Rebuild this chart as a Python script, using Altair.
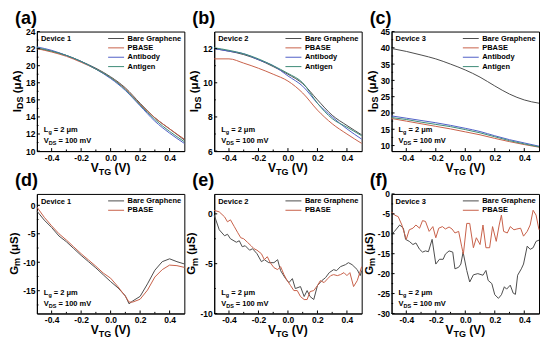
import altair as alt
import pandas as pd

FONT = "Liberation Sans"
W, H = 148, 120

COLORS = {"Bare Graphene": "#4d4d4d", "PBASE": "#c8614a",
          "Antibody": "#5060c8", "Antigen": "#3e8c78"}

# ---------------- data ----------------
X11 = [-0.5, -0.4, -0.3, -0.2, -0.1, 0.0, 0.1, 0.2, 0.3, 0.4, 0.5]

a_bare = [22.0, 21.7, 21.2, 20.5, 19.7, 18.7, 17.4, 15.6, 13.9, 12.6, 11.3]
a_pbase = [22.0, 21.6, 21.1, 20.4, 19.6, 18.6, 17.3, 15.5, 13.9, 12.6, 11.4]
a_antibody = [22.2, 21.8, 21.2, 20.5, 19.6, 18.5, 17.1, 15.3, 13.5, 12.1, 10.9]
a_antigen = [22.1, 21.7, 21.2, 20.5, 19.6, 18.6, 17.2, 15.4, 13.7, 12.3, 11.1]

b_bare = [12.0, 11.85, 11.65, 11.35, 10.95, 10.5, 9.95, 9.0, 8.1, 7.5, 6.95]
b_pbase = [11.4, 11.4, 11.15, 10.85, 10.5, 10.1, 9.4, 8.4, 7.6, 7.0, 6.45]
b_antibody = [12.0, 11.85, 11.7, 11.35, 11.0, 10.4, 9.8, 8.8, 8.0, 7.3, 6.7]
b_antigen = [12.05, 11.9, 11.7, 11.4, 11.0, 10.55, 10.0, 8.8, 7.9, 7.4, 6.9]

c_bare = [39.8, 38.9, 37.8, 36.6, 35.0, 33.2, 31.0, 28.3, 25.8, 24.0, 23.0]
c_pbase = [18.3, 17.5, 16.7, 15.9, 15.1, 14.2, 13.3, 12.2, 11.2, 10.3, 9.5]
c_antibody = [19.1, 18.4, 17.7, 17.0, 16.2, 15.3, 14.3, 13.0, 11.8, 10.8, 9.8]
c_antigen = [18.6, 18.0, 17.2, 16.5, 15.8, 14.9, 13.9, 12.7, 11.5, 10.5, 9.6]

d_x = [-0.5, -0.45, -0.4, -0.35, -0.3, -0.25, -0.2, -0.15, -0.1, -0.05, 0.0,
       0.05, 0.1, 0.125, 0.15, 0.2, 0.25, 0.3, 0.35, 0.4, 0.45, 0.5]
d_bare = [-1.0, -2.6, -3.9, -5.4, -6.4, -7.6, -8.8, -9.9, -11.0, -12.2, -13.4,
          -14.5, -15.9, -17.3, -16.8, -16.0, -13.8, -11.4, -9.9, -9.4, -9.9, -10.3]
d_pbase = [-0.3, -2.1, -3.6, -5.0, -6.1, -7.3, -8.5, -9.6, -10.7, -11.9, -12.8,
           -14.3, -16.0, -17.0, -17.0, -16.5, -14.9, -12.6, -11.3, -10.5, -10.6, -10.9]

e_bare_x = [-0.5, -0.466, -0.43, -0.41, -0.39, -0.35, -0.33, -0.31, -0.29, -0.26,
            -0.24, -0.21, -0.18, -0.16, -0.13, -0.095, -0.07, -0.05, -0.016, 0.007,
            0.03, 0.05, 0.085, 0.11, 0.13, 0.15, 0.175, 0.2, 0.23, 0.255,
            0.28, 0.31, 0.33, 0.356, 0.39, 0.41, 0.435, 0.47, 0.49, 0.5]
e_bare = [-0.13, -1.6, -2.2, -2.05, -2.5, -2.85, -2.7, -3.3, -3.2, -3.65,
          -3.5, -4.0, -4.8, -4.6, -4.9, -4.9, -4.6, -5.7, -6.5, -6.9,
          -6.5, -7.5, -7.3, -8.3, -7.7, -8.3, -8.6, -7.2, -6.7, -6.4,
          -5.9, -5.6, -5.7, -5.3, -5.1, -4.9, -5.1, -5.6, -6.2, -5.7]
e_pbase_x = [-0.5, -0.466, -0.43, -0.41, -0.39, -0.365, -0.34, -0.32, -0.3, -0.275,
             -0.25, -0.23, -0.21, -0.18, -0.16, -0.14, -0.12, -0.095, -0.07, -0.05,
             -0.027, -0.005, 0.018, 0.04, 0.063, 0.085, 0.11, 0.13, 0.15, 0.175,
             0.2, 0.22, 0.245, 0.27, 0.29, 0.31, 0.335, 0.356, 0.38, 0.4,
             0.42, 0.445, 0.47, 0.5]
e_pbase = [0.35, 0.2, -0.3, -0.8, -0.6, -1.25, -1.9, -2.4, -2.5, -2.85,
           -3.2, -3.5, -3.65, -4.0, -4.6, -4.3, -4.9, -5.4, -5.6, -5.3,
           -6.1, -6.7, -7.2, -7.7, -7.7, -8.3, -8.6, -8.6, -7.8, -7.7,
           -7.2, -6.7, -6.9, -6.5, -6.2, -6.1, -6.2, -6.1, -5.9, -6.2,
           -5.9, -7.3, -6.7, -5.3]

f_bare_x = [-0.5, -0.48, -0.445, -0.42, -0.405, -0.38, -0.355, -0.335, -0.31, -0.29,
            -0.27, -0.25, -0.225, -0.2, -0.175, -0.15, -0.135, -0.11, -0.085, -0.07,
            -0.045, -0.03, -0.015, 0.01, 0.03, 0.055, 0.085, 0.12, 0.14, 0.155,
            0.18, 0.2, 0.225, 0.245, 0.265, 0.28, 0.305, 0.325, 0.34, 0.355,
            0.38, 0.395, 0.42, 0.44, 0.46, 0.48, 0.5]
f_bare = [-10.2, -9.4, -7.8, -8.6, -11.4, -11.9, -12.7, -12.3, -13.9, -14.6,
          -14.3, -14.5, -11.4, -17.6, -16.4, -16.4, -15.1, -14.3, -14.6, -18.8,
          -18.4, -17.6, -14.6, -19.2, -22.1, -20.3, -20.0, -20.4, -19.2, -21.7,
          -22.5, -25.3, -26.2, -25.3, -23.3, -23.9, -22.9, -24.9, -25.2, -20.4,
          -18.8, -17.6, -13.1, -13.9, -13.5, -11.9, -11.6]
f_pbase_x = [-0.5, -0.48, -0.455, -0.43, -0.42, -0.40, -0.38, -0.355, -0.335, -0.31,
             -0.29, -0.27, -0.245, -0.22, -0.2, -0.18, -0.155, -0.135, -0.11, -0.09,
             -0.07, -0.045, -0.025, -0.013, 0.01, 0.03, 0.055, 0.075, 0.1, 0.12,
             0.14, 0.165, 0.185, 0.21, 0.23, 0.245, 0.26, 0.285, 0.305, 0.33,
             0.35, 0.375, 0.395, 0.42, 0.44, 0.46, 0.48, 0.5]
f_pbase = [-4.5, -5.3, -5.7, -7.8, -9.0, -11.4, -9.0, -8.6, -7.8, -8.6,
           -6.7, -6.9, -9.4, -8.2, -11.0, -8.6, -8.2, -8.8, -8.3, -8.8,
           -9.8, -9.4, -13.1, -15.1, -7.4, -7.4, -13.5, -11.0, -12.7, -7.8,
           -13.5, -13.5, -8.2, -11.9, -7.8, -5.3, -9.4, -9.8, -8.2, -9.0,
           -8.8, -8.6, -10.6, -9.4, -7.8, -4.1, -5.3, -9.0]

X_MAJOR = [-0.4, -0.2, 0.0, 0.2, 0.4]
X_MINOR = [-0.3, -0.1, 0.1, 0.3]

# ---------------- helpers ----------------
CW = {' ': 278, '(': 333, ')': 333, '=': 584, '.': 278, 'A': 722, 'D': 722, 'G': 778,
      'I': 278, 'L': 611, 'M': 833, 'S': 667, 'T': 611, 'V': 667, 'g': 611, 'm': 889,
      'μ': 611}


def tw(s, size):
    return sum(CW.get(ch, 556) for ch in s) * size / 1000.0


ONE = pd.DataFrame({"k": [1]})
HYPHEN = "replace(datum.label, '\u2212', '-')"


def txt(text, x, y, size, angle=0, dx=0, dy=0, align="left", baseline="alphabetic"):
    props = dict(text=text, font=FONT, fontWeight="bold", fontSize=size, align=align,
                 baseline=baseline, dx=dx, dy=dy, color="black")
    if angle:
        props["angle"] = angle
    return alt.Chart(ONE).mark_text(**props).encode(x=alt.value(x), y=alt.value(y))


def composite(pieces, x, y, angle=0, center=False):
    total = sum(tw(t, s) for t, s, _ in pieces)
    pos = -total / 2 if center else 0
    out = []
    for t, s, sh in pieces:
        stripped = t.lstrip(" ")
        lead = tw(t[:len(t) - len(stripped)], s)
        out.append(txt(stripped, x, y, s, angle=angle, dx=pos + lead, dy=sh))
        pos += tw(t, s)
    return out


def panel(label, device, series, ydom, ymaj, ymin, ytitle, ytx, smooth):
    rows = []
    names = []
    for name, xs, ys in series:
        assert len(xs) == len(ys), name
        names.append(name)
        for xv, yv in zip(xs, ys):
            rows.append({"x": xv, "y": yv, "s": name})
    df = pd.DataFrame(rows)
    xs = alt.Scale(domain=[-0.5, 0.5], nice=False, zero=False)
    ys = alt.Scale(domain=ydom, nice=False, zero=False)
    xax = alt.Axis(values=X_MAJOR, format=".1f", title=None, labelFlush=False, labelExpr=HYPHEN)
    yax = alt.Axis(values=ymaj, title=None, labelExpr=HYPHEN)
    mk = dict(strokeWidth=1)
    if smooth:
        mk["interpolate"] = "monotone"
    lines = alt.Chart(df).mark_line(**mk).encode(
        x=alt.X("x:Q", scale=xs, axis=xax),
        y=alt.Y("y:Q", scale=ys, axis=yax),
        color=alt.Color("s:N", scale=alt.Scale(domain=names, range=[COLORS[n] for n in names]),
                        legend=alt.Legend(title=None, orient="top-right", offset=3, padding=0,
                                          labelFont=FONT, labelFontWeight="bold",
                                          labelFontSize=7.5, labelColor="black",
                                          symbolType="stroke", symbolStrokeWidth=1,
                                          symbolSize=256, clipHeight=8, rowPadding=1.4,
                                          labelOffset=3, labelLimit=300)),
    )
    layers = [lines]
    # inward ticks
    for vals, ln in ((X_MAJOR, 3), (X_MINOR, 1.6)):
        layers.append(alt.Chart(pd.DataFrame({"v": vals})).mark_rule(color="black", strokeWidth=1).encode(
            x=alt.X("v:Q", scale=xs, axis=xax), y=alt.value(H), y2=alt.value(H - ln)))
    for vals, ln in ((ymaj, 3), (ymin, 1.6)):
        layers.append(alt.Chart(pd.DataFrame({"v": vals})).mark_rule(color="black", strokeWidth=1).encode(
            y=alt.Y("v:Q", scale=ys, axis=yax), x=alt.value(0), x2=alt.value(ln)))
    # annotations
    layers.append(txt(device, 4, 10, 7.5))
    layers += composite([("L", 7.5, 0), ("g", 5.5, 2), (" = 2 μm", 7.5, 0)], 7, H - 19)
    layers += composite([("V", 7.5, 0), ("DS", 5.5, 2), (" = 100 mV", 7.5, 0)], 7, H - 8)
    # axis titles
    layers += composite([("V", 12, 0), ("TG", 9, 3), (" (V)", 12, 0)], W / 2, H + 21, center=True)
    layers += composite(ytitle, ytx, H / 2, angle=270, center=True)
    # panel label
    layers.append(txt(label, -22, -8, 18))
    return alt.layer(*layers).properties(width=W, height=H)


YI = [("I", 11.5, 0), ("DS", 9, 2.5), (" (μA)", 11.5, 0)]
YG = [("G", 11.5, 0), ("m", 9, 2.5), (" (μS)", 11.5, 0)]

pa = panel("(a)", "Device 1",
           [("Bare Graphene", X11, a_bare), ("PBASE", X11, a_pbase),
            ("Antibody", X11, a_antibody), ("Antigen", X11, a_antigen)],
           [10, 24], list(range(10, 25, 2)), list(range(11, 24, 2)), YI, -16, True)
pb = panel("(b)", "Device 2",
           [("Bare Graphene", X11, b_bare), ("PBASE", X11, b_pbase),
            ("Antibody", X11, b_antibody), ("Antigen", X11, b_antigen)],
           [6, 13], [6, 8, 10, 12], [7, 9, 11], YI, -16, True)
pc = panel("(c)", "Device 3",
           [("Bare Graphene", X11, c_bare), ("PBASE", X11, c_pbase),
            ("Antibody", X11, c_antibody), ("Antigen", X11, c_antigen)],
           [8.3, 45], list(range(10, 46, 5)), [12.5 + 5 * i for i in range(7)], YI, -16, True)
pd_ = panel("(d)", "Device 1",
            [("Bare Graphene", d_x, d_bare), ("PBASE", d_x, d_pbase)],
            [-19, 2], [-15, -10, -5, 0], [-17.5, -12.5, -7.5, -2.5], YG, -19, False)
pe = panel("(e)", "Device 2",
           [("Bare Graphene", e_bare_x, e_bare), ("PBASE", e_pbase_x, e_pbase)],
           [-10, 2], [-10, -5, 0], [-7.5, -2.5], YG, -19, False)
pf = panel("(f)", "Device 3",
           [("Bare Graphene", f_bare_x, f_bare), ("PBASE", f_pbase_x, f_pbase)],
           [-30, 0], list(range(-30, 1, 5)), [-27.5 + 5 * i for i in range(6)], YG, -19, False)

chart = alt.concat(pa, pb, pc, pd_, pe, pf, columns=3, spacing={"row": 43, "column": 30},
                   bounds="flush").resolve_scale(
    x="independent", y="independent", color="independent"
).properties(padding=0, background="white").configure_view(
    stroke="black", strokeWidth=1
).configure_axis(
    labelFont=FONT, labelFontWeight="bold", labelFontSize=8.5, labelColor="black",
    domainColor="black", domainWidth=1, ticks=False, grid=False, labelPadding=2
)

chart.save("out.html", embed_options={"renderer": "svg", "actions": False})
